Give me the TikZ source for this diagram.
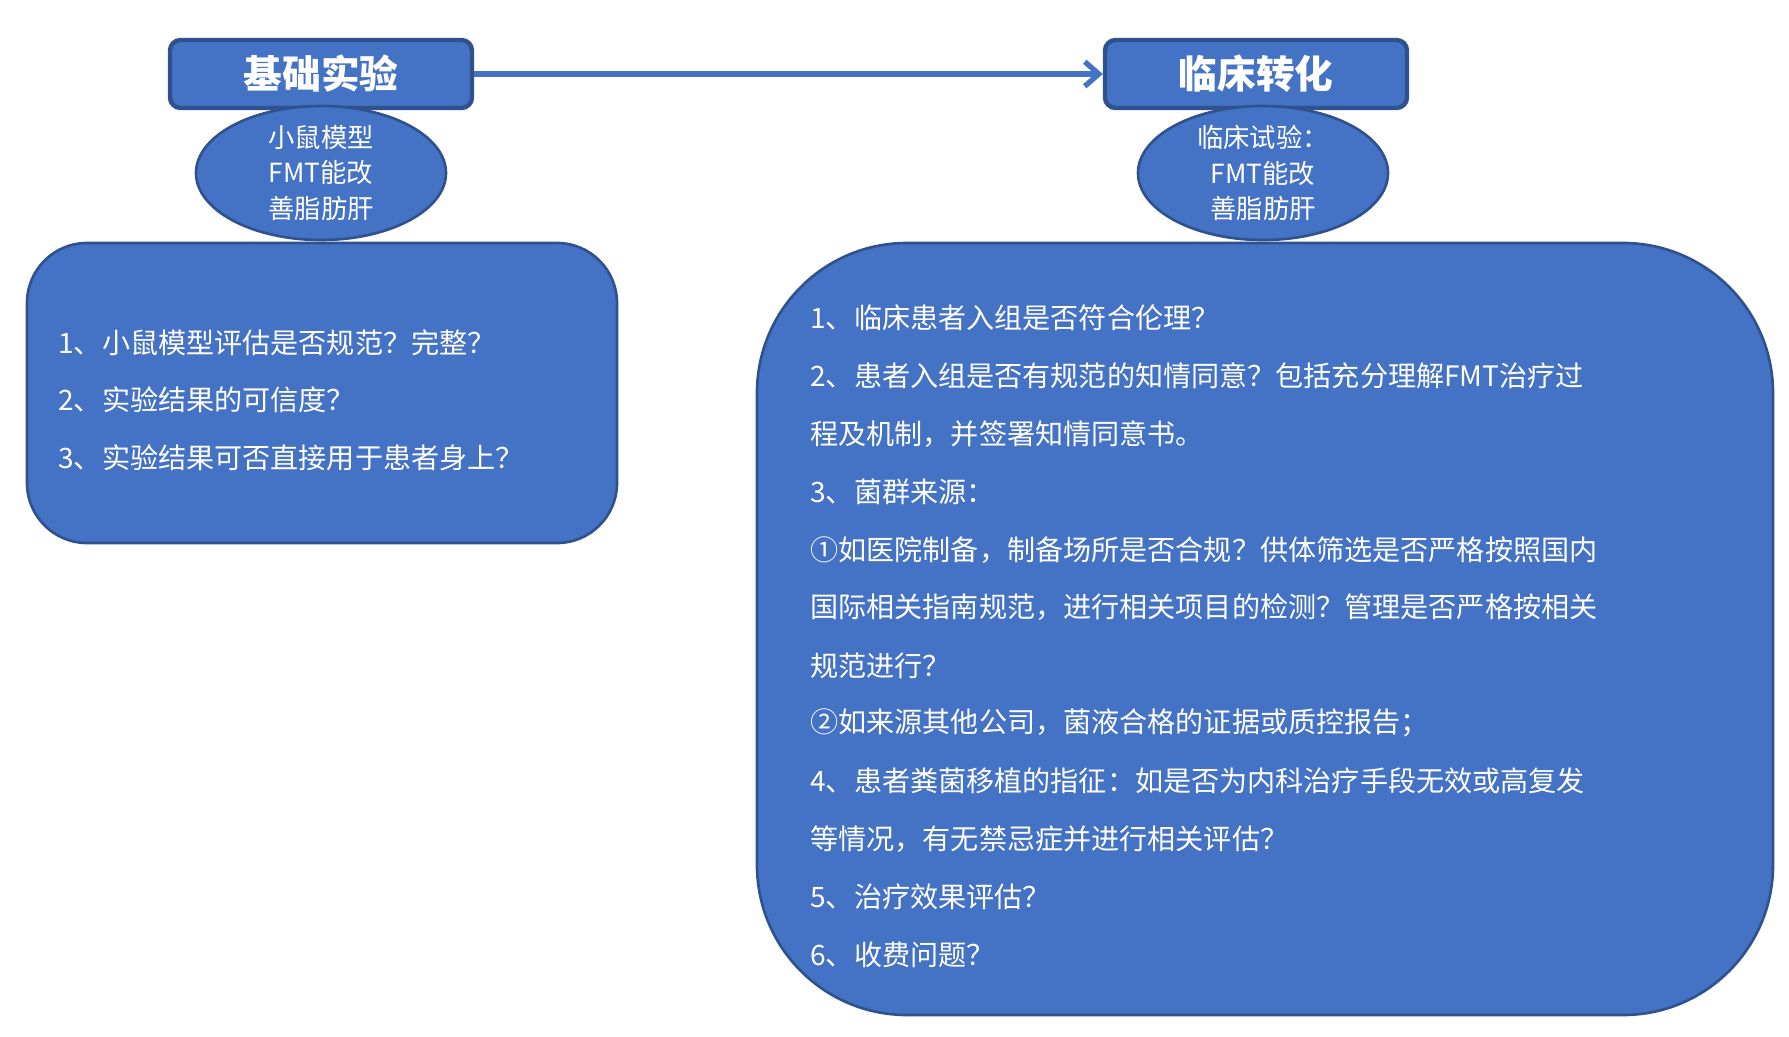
\documentclass[tikz,border=0pt]{standalone}
\usepackage{fontspec}
\setmainfont{Noto Sans CJK SC}
\usetikzlibrary{shapes.geometric,arrows.meta}
\definecolor{bfill}{HTML}{4472C4}
\definecolor{bdraw}{HTML}{2F528F}
\tikzset{
 title/.style={draw=bdraw,line width=2.5pt,fill=bfill,rounded corners=6pt,minimum width=302*0.02cm,minimum height=68*0.02cm,text=white,font=\fontsize{22}{26}\selectfont\bfseries},
 ell/.style={ellipse,draw=bdraw,line width=1.5pt,fill=bfill,minimum width=250*0.02cm,minimum height=134*0.02cm,text=white,align=center,font=\fontsize{15}{20}\selectfont,inner sep=0pt},
 line/.style={anchor=west,text=white,font=\fontsize{16}{19}\selectfont,inner sep=0pt},
}
\begin{document}
\begin{tikzpicture}[x=0.02cm,y=-0.02cm]
\useasboundingbox (0,0) rectangle (1789,1037);
\node[title] (a) at (321,74) {基础实验};
\node[title] (b) at (1256,74) {临床转化};
\draw[bfill,line width=3pt,-{Straight Barb[length=8pt,width=14pt]}] (a.east) -- (b.west);
\node[ell] (e1) at (321,173) {小鼠模型\\FMT能改\\善脂肪肝};
\node[ell] (e2) at (1263,173) {临床试验：\\FMT能改\\善脂肪肝};
\draw[bdraw,line width=1.5pt,fill=bfill,rounded corners=60*0.02cm] (27,243) rectangle (617,543);
\draw[bdraw,line width=1.5pt,fill=bfill,rounded corners=150*0.02cm] (757,243) rectangle (1773,1015);
\node[line] (l1) at (58,343) {1、小鼠模型评估是否规范？完整？};
\node[line] (l2) at (58,400) {2、实验结果的可信度？};
\node[line] (l3) at (58,458) {3、实验结果可否直接用于患者身上？};
\foreach \t [count=\i] in {
1、临床患者入组是否符合伦理？,
2、患者入组是否有规范的知情同意？包括充分理解FMT治疗过,
程及机制，并签署知情同意书。,
3、菌群来源：,
①如医院制备，制备场所是否合规？供体筛选是否严格按照国内,
国际相关指南规范，进行相关项目的检测？管理是否严格按相关,
规范进行？,
②如来源其他公司，菌液合格的证据或质控报告；,
4、患者粪菌移植的指征：如是否为内科治疗手段无效或高复发,
等情况，有无禁忌症并进行相关评估？,
5、治疗效果评估？,
6、收费问题？}
 \node[line] (r\i) at (810,{318+(\i-1)*57.9}) {\t};
\end{tikzpicture}
\end{document}
